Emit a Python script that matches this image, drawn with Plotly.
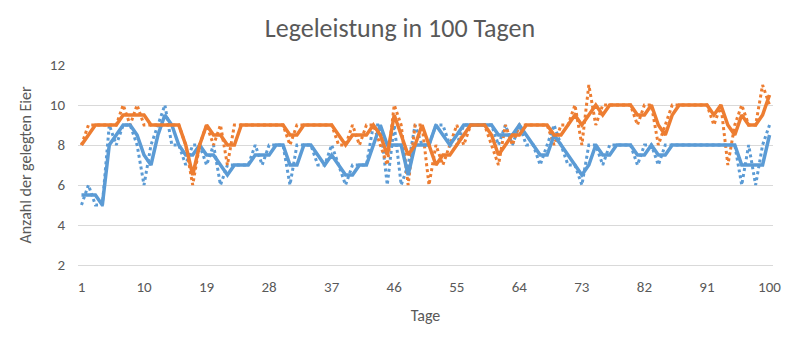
import plotly.graph_objects as go

days = list(range(1, 101))

# Blue series: daily values (dotted) and smoothed (solid)
blue_daily = [5, 6, 5, 5, 9, 8, 9, 9, 8, 6,
              8, 9, 10, 8, 8, 7, 8, 8, 7, 8,
              6, 7, 7, 7, 7, 8, 7, 8, 8, 8,
              6, 8, 8, 8, 7, 7, 8, 7, 6, 7,
              7, 7, 9, 9, 6, 9, 6, 7, 9, 8,
              8, 9, 9, 8, 8, 9, 9, 9, 9, 9,
              8, 9, 8, 9, 8, 8, 7, 8, 9, 8,
              7, 7, 6, 8, 8, 7, 8, 8, 8, 8,
              7, 8, 8, 7, 8, 8, 8, 8, 8, 8,
              8, 8, 8, 8, 8, 6, 8, 6, 8, 9]
blue_smooth = [5.5, 5.5, 5.5, 5, 8, 8.5, 9, 9, 8.5, 7.5,
               7, 8.5, 9.5, 9, 8, 7.5, 7.5, 8, 7.5, 7.5,
               7, 6.5, 7, 7, 7, 7.5, 7.5, 7.5, 8, 8,
               7, 7, 8, 8, 7.5, 7, 7.5, 7, 6.5, 6.5,
               7, 7, 8, 9, 8, 8, 8, 6.5, 8, 8,
               8, 9, 8.5, 8, 8.5, 9, 9, 9, 9, 9,
               8.5, 8.5, 8.5, 9, 8.5, 8, 7.5, 7.5, 8.5, 8,
               7.5, 7, 6.5, 7, 8, 7.5, 7.5, 8, 8, 8,
               7.5, 7.5, 8, 7.5, 7.5, 8, 8, 8, 8, 8,
               8, 8, 8, 8, 8, 7, 7, 7, 7, 8.5]

# Orange series: daily values (dotted) and smoothed (solid)
orange_daily = [8, 9, 9, 9, 9, 9, 10, 9, 10, 9,
                9, 9, 9, 9, 9, 8, 6, 8, 9, 8,
                9, 7, 9, 9, 9, 9, 9, 9, 9, 9,
                8, 9, 9, 9, 9, 9, 9, 8, 8, 9,
                8, 9, 9, 8, 7, 10, 9, 6, 9, 9,
                6, 8, 7, 8, 9, 8, 9, 9, 9, 8,
                7, 9, 8, 9, 9, 9, 9, 9, 8, 9,
                9, 10, 8, 11, 9, 10, 10, 10, 10, 10,
                9, 10, 10, 8, 9, 10, 10, 10, 10, 10,
                10, 9, 10, 7, 9, 10, 9, 9, 11, 10]
orange_smooth = [8, 8.5, 9, 9, 9, 9, 9.5, 9.5, 9.5, 9.5,
                 9, 9, 9, 9, 9, 8, 6.5, 8, 9, 8.5,
                 8.5, 8, 8, 9, 9, 9, 9, 9, 9, 9,
                 8.5, 8.5, 9, 9, 9, 9, 9, 8.5, 8, 8.5,
                 8.5, 8.5, 9, 8.5, 7.5, 9.5, 8.5, 7.5, 8, 9,
                 8, 7, 7.5, 7.5, 8, 8.5, 9, 9, 9, 8.5,
                 7.5, 8, 8.5, 8.5, 9, 9, 9, 9, 8.5, 8.5,
                 9, 9.5, 9, 9.5, 10, 9.5, 10, 10, 10, 10,
                 9.5, 9.5, 10, 9, 8.5, 9.5, 10, 10, 10, 10,
                 10, 9.5, 10, 9, 8.5, 9.5, 9, 9, 9.5, 10.5]

x_ticks = [1, 10, 19, 28, 37, 46, 55, 64, 73, 82, 91, 100]
y_ticks = [2, 4, 6, 8, 10, 12]

BLUE = "#5B9BD5"
ORANGE = "#ED7D31"
TXT = "#595959"
GRID = "#D9D9D9"
FONT = "Carlito, Lato, sans-serif"

fig = go.Figure()
fig.add_trace(go.Scatter(x=days, y=blue_daily, mode="lines",
                         line=dict(color=BLUE, width=3, dash="dot")))
fig.add_trace(go.Scatter(x=days, y=orange_daily, mode="lines",
                         line=dict(color=ORANGE, width=3, dash="dot")))
fig.add_trace(go.Scatter(x=days, y=blue_smooth, mode="lines",
                         line=dict(color=BLUE, width=3.5)))
fig.add_trace(go.Scatter(x=days, y=orange_smooth, mode="lines",
                         line=dict(color=ORANGE, width=3.5)))

fig.update_layout(
    width=800, height=344,
    margin=dict(l=78, r=27, t=65, b=79),
    paper_bgcolor="white", plot_bgcolor="white",
    showlegend=False,
    font=dict(family=FONT, color=TXT, size=15),
    title=dict(text="Legeleistung in 100 Tagen", x=0.5, xanchor="center",
               y=1 - 28 / 344, yanchor="middle", yref="container",
               font=dict(size=26, color=TXT, family=FONT)),
    xaxis=dict(range=[0.5, 100.5], tickvals=x_ticks, showgrid=False,
               zeroline=False, showline=True, linecolor=GRID, linewidth=1,
               ticks="", ticklabelstandoff=8, tickfont=dict(size=15, color=TXT),
               title=dict(text="Tage", font=dict(size=16, color=TXT), standoff=14)),
    yaxis=dict(range=[2, 12], tickvals=y_ticks, showgrid=True, gridcolor=GRID,
               gridwidth=1, zeroline=False, showline=False, ticks="",
               ticklabelstandoff=12, tickfont=dict(size=15, color=TXT),
               title=dict(text="Anzahl der gelegten Eier",
                          font=dict(size=16, color=TXT), standoff=14)),
)

fig.write_html("out.html")
